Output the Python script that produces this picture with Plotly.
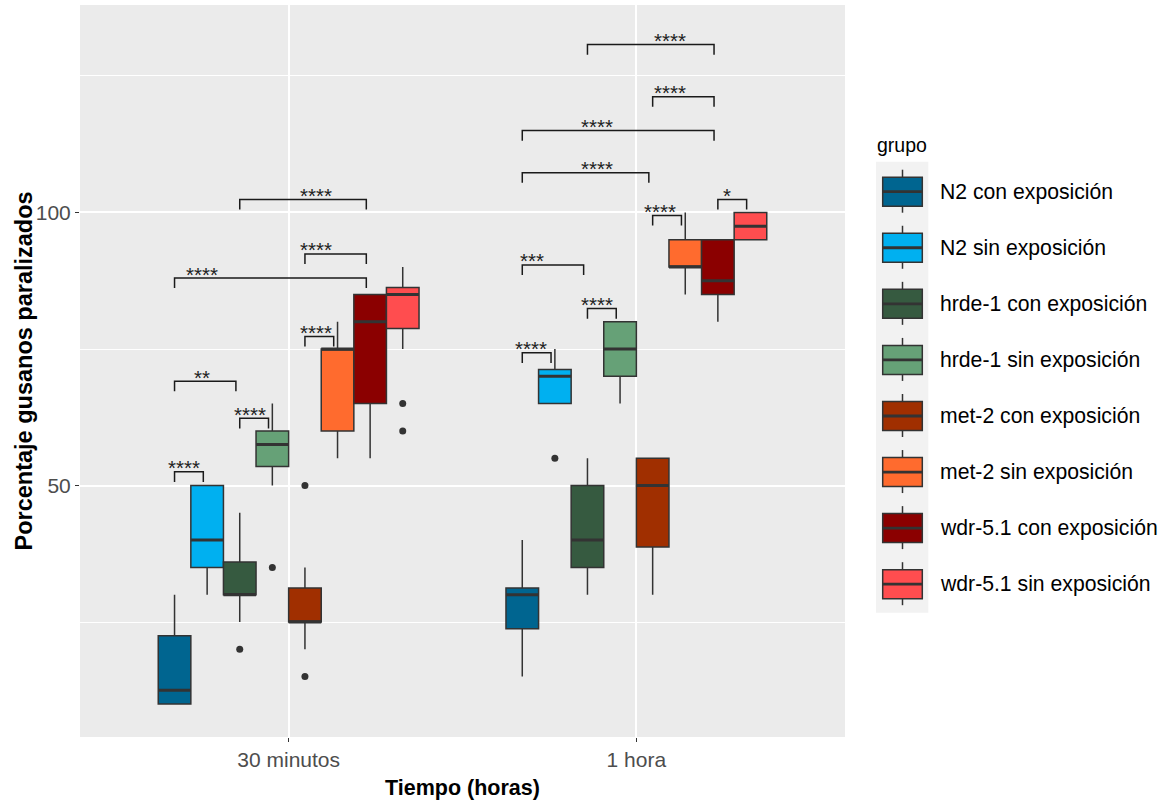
import plotly.graph_objects as go

# ---------------- data ----------------
tiempos = ["30 minutos", "1 hora"]
grupos = ["N2 con exposición", "N2 sin exposición",
          "hrde-1 con exposición", "hrde-1 sin exposición",
          "met-2 con exposición", "met-2 sin exposición",
          "wdr-5.1 con exposición", "wdr-5.1 sin exposición"]
colores = ["#006590", "#00B0F0", "#365A40", "#66A177",
           "#A02F00", "#FF6B2E", "#8B0000", "#FF4D4F"]

# box statistics per grupo: [30 minutos, 1 hora]
lowerfence = [[10, 15], [30, 65], [25, 30], [50, 65], [20, 30], [55, 85], [55, 80], [75, 95]]
q1         = [[10, 23.75], [35, 65], [30, 35], [53.5, 70], [25, 38.75], [60, 90], [65, 85], [78.75, 95]]
median     = [[12.5, 30], [40, 70], [30, 40], [57.5, 75], [25, 50], [75, 90], [80, 87.5], [85, 97.5]]
q3         = [[22.5, 31.25], [50, 71.25], [36, 50], [60, 80], [31.25, 55], [75, 95], [85, 95], [86.25, 100]]
upperfence = [[30, 40], [50, 75], [45, 55], [65, 80], [35, 55], [80, 100], [85, 95], [90, 100]]

# outliers
outlier_tiempo = [0, 0, 0, 0, 0, 0, 1]
outlier_grupo  = [2, 3, 4, 4, 7, 7, 1]
outlier_valor  = [20, 35, 50, 15, 65, 60, 55]

# significance comparisons
comp_tiempo = [0, 0, 0, 0, 0, 0, 0, 1, 1, 1, 1, 1, 1, 1, 1, 1]
comp_a      = [0, 2, 0, 4, 0, 4, 2, 0, 2, 0, 4, 6, 0, 0, 4, 2]
comp_b      = [1, 3, 2, 5, 6, 6, 6, 1, 3, 2, 5, 7, 4, 6, 6, 6]
comp_y      = [52.5, 62.3, 69.1, 77.3, 88.0, 92.4, 102.4,
               74.3, 82.4, 90.4, 99.45, 102.4, 107.3, 115.0, 121.2, 130.75]
comp_label  = ["****", "****", "**", "****", "****", "****", "****",
               "****", "****", "***", "****", "*", "****", "****", "****", "****"]

# ---------------- layout constants ----------------
W, H = 1171, 801
L, R, T, B = 80, 845, 5, 737
n = len(grupos)
dodge = 0.75
bw = dodge / n
YR = [3.94, 138.0]
XR = [-0.6, 1.6]
label_idx = [0.29, 2.32, 0.84, 4.33, 0.84, 4.33, 4.33,
             0.28, 2.30, 0.30, 4.23, 6.27, 2.30, 2.30, 4.53, 4.53]
tip = 1.85
right_shift = -0.011
FONT = "Liberation Sans, Arial, sans-serif"
OUT = "#333333"


def pos(t, g):
    return t - dodge / 2 + bw * (g + 0.5)


def px(xpix):
    return (xpix - L) / (R - L)


def py(ypix):
    return (B - ypix) / (B - T)


fig = go.Figure()

for g in range(n):
    xs = [pos(t, g) for t in range(len(tiempos))]
    fig.add_trace(go.Box(
        x=xs,
        lowerfence=lowerfence[g], q1=q1[g], median=median[g], q3=q3[g],
        upperfence=upperfence[g],
        width=bw, whiskerwidth=0, boxpoints=False,
        fillcolor=colores[g], line=dict(color=OUT, width=1.5),
        name=grupos[g], showlegend=False, hoverinfo="skip",
    ))

# thicker median lines
mx, my = [], []
for g in range(n):
    for t in range(len(tiempos)):
        c = pos(t, g)
        mx += [c - bw / 2, c + bw / 2, None]
        my += [median[g][t], median[g][t], None]
fig.add_trace(go.Scatter(x=mx, y=my, mode="lines", line=dict(color=OUT, width=3),
                         showlegend=False, hoverinfo="skip"))

# outliers
fig.add_trace(go.Scatter(
    x=[pos(t, g) for t, g in zip(outlier_tiempo, outlier_grupo)],
    y=outlier_valor, mode="markers",
    marker=dict(color=OUT, size=7), showlegend=False, hoverinfo="skip"))

# significance brackets
shapes = []
annotations = []
for t, a, b, y, lab, li in zip(comp_tiempo, comp_a, comp_b, comp_y, comp_label, label_idx):
    x1 = pos(t, a)
    x2 = pos(t, b) + right_shift
    shapes.append(dict(type="path", xref="x", yref="y",
                       path=f"M{x1},{y - tip} L{x1},{y} L{x2},{y} L{x2},{y - tip}",
                       line=dict(color="#1a1a1a", width=1.5)))
    annotations.append(dict(x=pos(t, li), y=y, xref="x", yref="y", text=lab,
                            showarrow=False, xanchor="center", yanchor="middle", yshift=4,
                            font=dict(family=FONT, size=20.5, color="#222222")))

# axis titles
annotations.append(dict(x=0.5, y=py(788), xref="paper", yref="paper",
                        text="<b>Tiempo (horas)</b>", showarrow=False,
                        xanchor="center", yanchor="middle",
                        font=dict(family=FONT, size=21.5, color="black")))
annotations.append(dict(x=px(24), y=py(371.5), xref="paper", yref="paper",
                        text="<b>Porcentaje gusanos paralizados</b>", showarrow=False,
                        textangle=-90, xanchor="center", yanchor="middle",
                        font=dict(family=FONT, size=23.5, color="black")))

# manual legend (ggplot style)
annotations.append(dict(x=px(875), y=py(145), xref="paper", yref="paper",
                        text="grupo", showarrow=False, xanchor="left", yanchor="middle",
                        font=dict(family=FONT, size=19.5, color="black")))
shapes.append(dict(type="rect", xref="paper", yref="paper",
                   x0=px(876), x1=px(928.3), y0=py(612.7), y1=py(161.7),
                   fillcolor="#F2F2F2", line=dict(width=0), layer="below"))
key_step = 56.07
for g in range(n):
    yc = 191.7 + key_step * g
    shapes.append(dict(type="line", xref="paper", yref="paper",
                       x0=px(902.5), x1=px(902.5), y0=py(yc - 22), y1=py(yc + 21),
                       line=dict(color=OUT, width=1.5)))
    shapes.append(dict(type="rect", xref="paper", yref="paper",
                       x0=px(882.7), x1=px(922.3), y0=py(yc + 14.5), y1=py(yc - 14.5),
                       fillcolor=colores[g], line=dict(color=OUT, width=1.5)))
    shapes.append(dict(type="line", xref="paper", yref="paper",
                       x0=px(882.7), x1=px(922.3), y0=py(yc), y1=py(yc),
                       line=dict(color=OUT, width=2.8)))
    annotations.append(dict(x=px(938), y=py(yc), xref="paper", yref="paper",
                            text=grupos[g], showarrow=False, xanchor="left", yanchor="middle",
                            font=dict(family=FONT, size=21.2, color="black")))

fig.update_layout(
    width=W, height=H,
    margin=dict(l=L, r=W - R, t=T, b=H - B, pad=0),
    paper_bgcolor="white", plot_bgcolor="#EBEBEB",
    boxmode="overlay",
    shapes=shapes, annotations=annotations,
    font=dict(family=FONT),
    xaxis=dict(range=XR, tickmode="array", tickvals=list(range(len(tiempos))), ticktext=tiempos,
               showgrid=True, gridcolor="white", gridwidth=2, zeroline=False,
               ticks="outside", ticklen=4, tickcolor=OUT, tickwidth=1.2,
               tickfont=dict(family=FONT, size=21, color="#4D4D4D"),
               showline=False, fixedrange=True),
    yaxis=dict(range=YR, tickmode="linear", tick0=0, dtick=50,
               showgrid=True, gridcolor="white", gridwidth=2, zeroline=False,
               minor=dict(tick0=0, dtick=25, showgrid=True, gridcolor="white", gridwidth=1.2),
               ticks="outside", ticklen=4, tickcolor=OUT, tickwidth=1.2,
               tickfont=dict(family=FONT, size=21, color="#4D4D4D"),
               showline=False, fixedrange=True),
)

fig.write_html("out.html")
